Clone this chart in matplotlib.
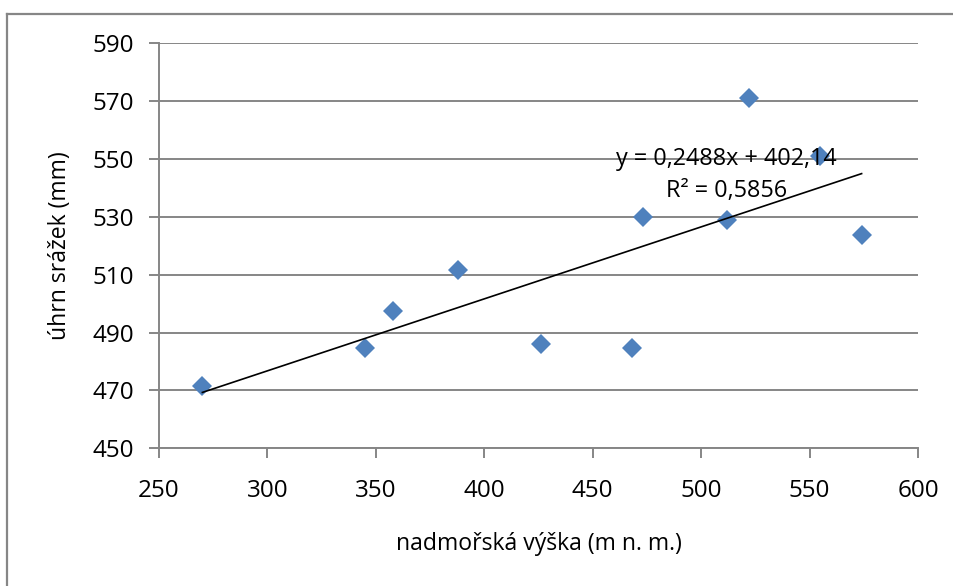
import matplotlib
matplotlib.use("Agg")
import matplotlib.pyplot as plt
from matplotlib.lines import Line2D
import numpy as np

# nadmořská výška stanic (m n. m.) a úhrn srážek (mm)
vyska = [270, 345, 358, 388, 426, 468, 473, 512, 522, 555, 574]
srazky = [471.6, 484.6, 497.5, 511.6, 486.2, 484.8, 530.0, 528.9, 571.2, 551.0, 523.7]

# lineární trend (koeficienty z rovnice v grafu)
smernice = 0.2488
posun = 402.14
r2 = 0.5856

x_ticks = [250, 300, 350, 400, 450, 500, 550, 600]
y_ticks = [450, 470, 490, 510, 530, 550, 570, 590]

plt.rcParams['font.family'] = ['Open Sans', 'DejaVu Sans']
GRAY = '#868686'

fig = plt.figure(figsize=(9.54, 5.86), dpi=100)
ax = fig.add_axes([159 / 954, 1 - 448.3 / 586, (918 - 159) / 954, (448.3 - 43.3) / 586])

# rámeček oblasti grafu
fig.add_artist(Line2D([7 / 954, 7 / 954], [0, 1 - 14 / 586], transform=fig.transFigure,
                      color=GRAY, lw=1.6))
fig.add_artist(Line2D([7 / 954, 1], [1 - 14 / 586, 1 - 14 / 586], transform=fig.transFigure,
                      color=GRAY, lw=1.6))

ax.set_xlim(250, 600)
ax.set_ylim(450, 590)
ax.set_xticks(x_ticks)
ax.set_yticks(y_ticks)

ax.grid(axis='y', color=GRAY, lw=1.4)
ax.set_axisbelow(True)
for side in ['top', 'right']:
    ax.spines[side].set_visible(False)
for side in ['left', 'bottom']:
    ax.spines[side].set_color(GRAY)
    ax.spines[side].set_linewidth(1.4)
ax.tick_params(axis='both', colors=GRAY, width=1.4, length=7, labelsize=17.5,
               labelcolor='black')
ax.tick_params(axis='y', pad=11)
ax.tick_params(axis='x', pad=15)

ax.plot(vyska, srazky, linestyle='none', marker='D', markersize=10,
        color='#4F81BD', markeredgewidth=0, zorder=3)

xt = np.array([min(vyska), max(vyska)])
ax.plot(xt, smernice * xt + posun, color='black', lw=1.2, zorder=4)

ax.text(511.5, 550, f'y = {smernice:.4f}x + {posun:.2f}'.replace('.', ','),
        ha='center', va='center', fontsize=16.8, zorder=5)
ax.text(511.5, 539, f'R² = {r2:.4f}'.replace('.', ','),
        ha='center', va='center', fontsize=16.8, zorder=5)

ax.set_xlabel('nadmořská výška (m n. m.)', fontsize=16.6, labelpad=21)
ax.set_ylabel('úhrn srážek (mm)', fontsize=16.6, labelpad=15)

fig.savefig('out.png', dpi=100)
